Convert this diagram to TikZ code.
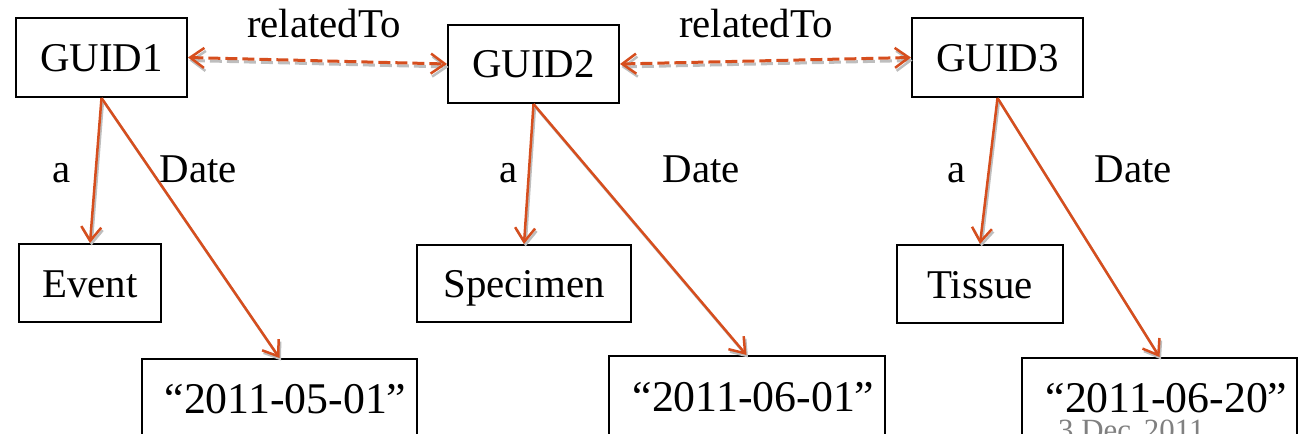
\documentclass[tikz,border=0pt]{standalone}
\usepackage{fontspec}
\setmainfont{Liberation Serif}
\usetikzlibrary{arrows.meta}
\definecolor{arr}{RGB}{214,78,30}
\definecolor{shade}{RGB}{190,190,190}
\begin{document}
\begin{tikzpicture}[x=1bp,y=-1bp,
  box/.style={draw=black,line width=2bp,inner sep=0,text height=28bp,text depth=0bp,font=\fontsize{41}{41}\selectfont},
  datebox/.style={draw=black,line width=2bp,inner sep=0,text height=30bp,text depth=0bp,font=\fontsize{44}{44}\selectfont},
  lbl/.style={font=\fontsize{41}{41}\selectfont,anchor=base,inner sep=0},
  foot/.style={font=\fontsize{31}{31}\selectfont,text=black!50,anchor=base west,inner sep=0},
  tip/.style={-{Straight Barb[length=14bp,width=20bp,line width=2.5bp]}},
  rel/.style={draw=arr,line width=2.5bp,tip,
    preaction={draw=shade,line width=2.5bp,tip,transform canvas={shift={(1.5bp,-2.5bp)}}}},
  link/.style={draw=arr,line width=3bp,dash pattern=on 12bp off 5bp,
    {Straight Barb[length=14bp,width=20bp,line width=2.5bp]}-{Straight Barb[length=14bp,width=20bp,line width=2.5bp]},
    preaction={draw=shade,line width=3bp,dash pattern=on 12bp off 5bp,transform canvas={shift={(1.5bp,-3bp)}}}}
]
\useasboundingbox (0,0) rectangle (1301,434);
\clip (0,0) rectangle (1301,434);
% top row
\node[box,minimum width=171bp,minimum height=79bp] (g1) at (101.5,57.5) {GUID1};
\node[box,minimum width=171bp,minimum height=78bp] (g2) at (533.5,64) {GUID2};
\node[box,minimum width=171bp,minimum height=79bp] (g3) at (997.5,57.5) {GUID3};
% class row
\node[box,minimum width=142bp,minimum height=78bp] (ev) at (90,283) {Event};
\node[box,minimum width=214bp,minimum height=77bp] (sp) at (524,283.5) {Specimen};
\node[box,minimum width=166bp,minimum height=78bp] (ti) at (980,284) {Tissue};
% literal row
\node[datebox,minimum width=275bp,minimum height=78bp] (d1) at (279.5,398) {\hspace*{12bp}“2011-05-01”};
\node[datebox,minimum width=276bp,minimum height=80bp] (d2) at (746.5,396) {\hspace*{14bp}“2011-06-01”};
\node[datebox,minimum width=275bp,minimum height=78bp] (d3) at (1159.5,397) {\hspace*{14bp}“2011-06-20”};
% edge labels
\node[lbl] (r1) at (324,38) {relatedTo};
\node[lbl] (r2) at (756,38) {relatedTo};
\node[lbl] (a1) at (62,183) {a};
\node[lbl] (t1) at (198.5,183) {Date};
\node[lbl] (a2) at (509,183) {a};
\node[lbl] (t2) at (701.5,183) {Date};
\node[lbl] (a3) at (957,183) {a};
\node[lbl] (t3) at (1133.5,183) {Date};
% footer
\node[foot] (ft) at (1058,440) {3 Dec\, 2011};
% connectors
\draw[link] (g1.east) -- (g2.west);
\draw[link] (g2.east) -- (g3.west);
\draw[rel] (g1.south) -- (ev.north);
\draw[rel] (g1.south) -- (d1.north);
\draw[rel] (g2.south) -- (sp.north);
\draw[rel] (g2.south) -- (d2.north);
\draw[rel] (g3.south) -- (ti.north);
\draw[rel] (g3.south) -- (d3.north);
\end{tikzpicture}
\end{document}
